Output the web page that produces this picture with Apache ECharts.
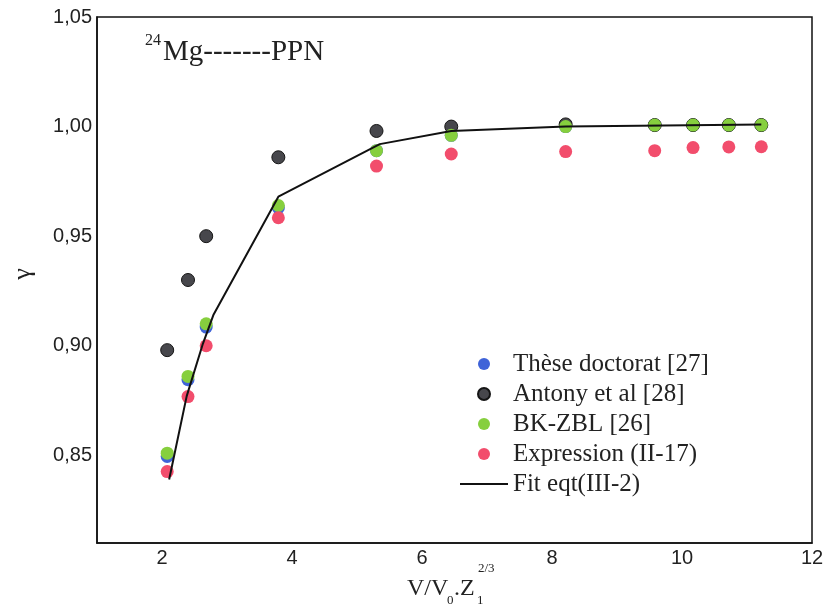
<!DOCTYPE html>
<html>
<head>
<meta charset="utf-8">
<script src="https://cdn.jsdelivr.net/npm/echarts@6/dist/echarts.min.js"></script>
<style>
  html, body { margin: 0; padding: 0; background: #fff; }
  #main { width: 827px; height: 613px; }
</style>
</head>
<body>
<div id="main"></div>
<script>
// x positions (V/V0.Z1^2/3)
var ptX = [2.08, 2.40, 2.68, 3.79, 5.30, 6.45, 8.21, 9.58, 10.17, 10.72, 11.22];
// gamma values
var theseY = [0.8495, 0.8845, 0.9085, 0.9630, 0.9890, 0.9960, 1.0000, 1.0007, 1.0007, 1.0007, 1.0007];
var antonyY = [0.898, 0.930, 0.950, 0.986, 0.998, 1.000, 1.001, 1.0007, 1.0007, 1.0007, 1.0007];
var bkzblY = [0.851, 0.886, 0.910, 0.964, 0.989, 0.996, 1.000, 1.0007, 1.0007, 1.0007, 1.0007];
var exprY = [0.8426, 0.8768, 0.900, 0.9584, 0.982, 0.9875, 0.9886, 0.989, 0.9904, 0.9907, 0.9908];
// fit curve
var fitX = [2.11, 2.38, 2.63, 2.79, 3.79, 5.35, 6.45, 8.21, 11.22];
var fitY = [0.839, 0.877, 0.901, 0.914, 0.968, 0.992, 0.998, 1.000, 1.001];
// ticks
var xTicks = [2, 4, 6, 8, 10, 12];
var yTicks = [0.85, 0.90, 0.95, 1.00, 1.05];
var names = ['Thèse doctorat [27]', 'Antony et al [28]', 'BK-ZBL [26]', 'Expression (II-17)', 'Fit eqt(III-2)'];

function pairs(xs, ys) {
  var out = [];
  for (var i = 0; i < xs.length; i++) {
    out.push([xs[i], ys[i]]);
  }
  return out;
}

var serif = 'Liberation Serif';
var sans = 'Liberation Sans';

var chart = echarts.init(document.getElementById('main'));

var option = {
  backgroundColor: '#fff',
  animation: false,
  grid: {
    left: 97, right: 15, top: 17, bottom: 70,
    show: true, borderColor: '#111', borderWidth: 1.5
  },
  legend: {
    orient: 'vertical',
    left: 455,
    top: 344,
    itemWidth: 48,
    itemHeight: 12,
    itemGap: 0,
    data: [
      names[0], names[1], names[2], names[3],
      // plain line, no marker
      { name: names[4], icon: 'path://M0,0H48V2H0Z' }
    ],
    textStyle: { fontFamily: serif, fontSize: 25, color: '#222', lineHeight: 30 }
  },
  xAxis: {
    type: 'value',
    min: 1,
    max: 12,
    splitLine: { show: false },
    axisTick: { show: false },
    axisLine: { lineStyle: { color: '#111', width: 1.5 } },
    axisLabel: {
      customValues: xTicks,
      margin: 5,
      fontFamily: sans,
      fontSize: 20,
      color: '#222'
    }
  },
  yAxis: {
    type: 'value',
    min: 0.81,
    max: 1.05,
    splitLine: { show: false },
    axisTick: { show: false },
    axisLine: { lineStyle: { color: '#111', width: 1.5 } },
    axisLabel: {
      customValues: yTicks,
      margin: 5,
      fontFamily: sans,
      fontSize: 20,
      color: '#222',
      formatter: function (v) {
        return v.toFixed(2).replace('.', ',');
      }
    }
  },
  graphic: [
    { type: 'text', left: 145, top: 33, style: { text: '24', font: '16px "Liberation Serif"', fill: '#222' } },
    { type: 'text', x: 163, y: 52, style: { text: 'Mg-------PPN', font: '29px "Liberation Serif"', fill: '#222', textVerticalAlign: 'middle' } },
    { type: 'text', x: 23, y: 274, rotation: Math.PI / 2, style: { text: 'γ', font: '26px "Liberation Serif"', fill: '#222', textAlign: 'center', textVerticalAlign: 'middle' } },
    { type: 'text', x: 407, y: 589, style: { text: 'V/V', font: '24px "Liberation Serif"', fill: '#222', textVerticalAlign: 'middle' } },
    { type: 'text', x: 447, y: 601, style: { text: '0', font: '13px "Liberation Serif"', fill: '#222', textVerticalAlign: 'middle' } },
    { type: 'text', x: 454, y: 589, style: { text: '.Z', font: '24px "Liberation Serif"', fill: '#222', textVerticalAlign: 'middle' } },
    { type: 'text', x: 477, y: 601, style: { text: '1', font: '13px "Liberation Serif"', fill: '#222', textVerticalAlign: 'middle' } },
    { type: 'text', x: 478, y: 569, style: { text: '2/3', font: '13px "Liberation Serif"', fill: '#222', textVerticalAlign: 'middle' } }
  ],
  series: [
    {
      name: names[0],
      type: 'scatter',
      symbolSize: 13,
      itemStyle: { color: '#3f63d8', opacity: 1 },
      data: pairs(ptX, theseY)
    },
    {
      name: names[1],
      type: 'scatter',
      symbolSize: 13,
      itemStyle: { color: '#47474c', borderColor: '#151515', borderWidth: 1, opacity: 1 },
      data: pairs(ptX, antonyY)
    },
    {
      name: names[2],
      type: 'scatter',
      symbolSize: 13,
      itemStyle: { color: '#86cf3e', opacity: 1 },
      data: pairs(ptX, bkzblY)
    },
    {
      name: names[3],
      type: 'scatter',
      symbolSize: 13,
      itemStyle: { color: '#f24d6c', opacity: 1 },
      data: pairs(ptX, exprY)
    },
    {
      name: names[4],
      type: 'line',
      symbol: 'none',
      lineStyle: { color: '#111', width: 2 },
      itemStyle: { color: '#111' },
      data: pairs(fitX, fitY)
    }
  ]
};

chart.setOption(option);
</script>
</body>
</html>
